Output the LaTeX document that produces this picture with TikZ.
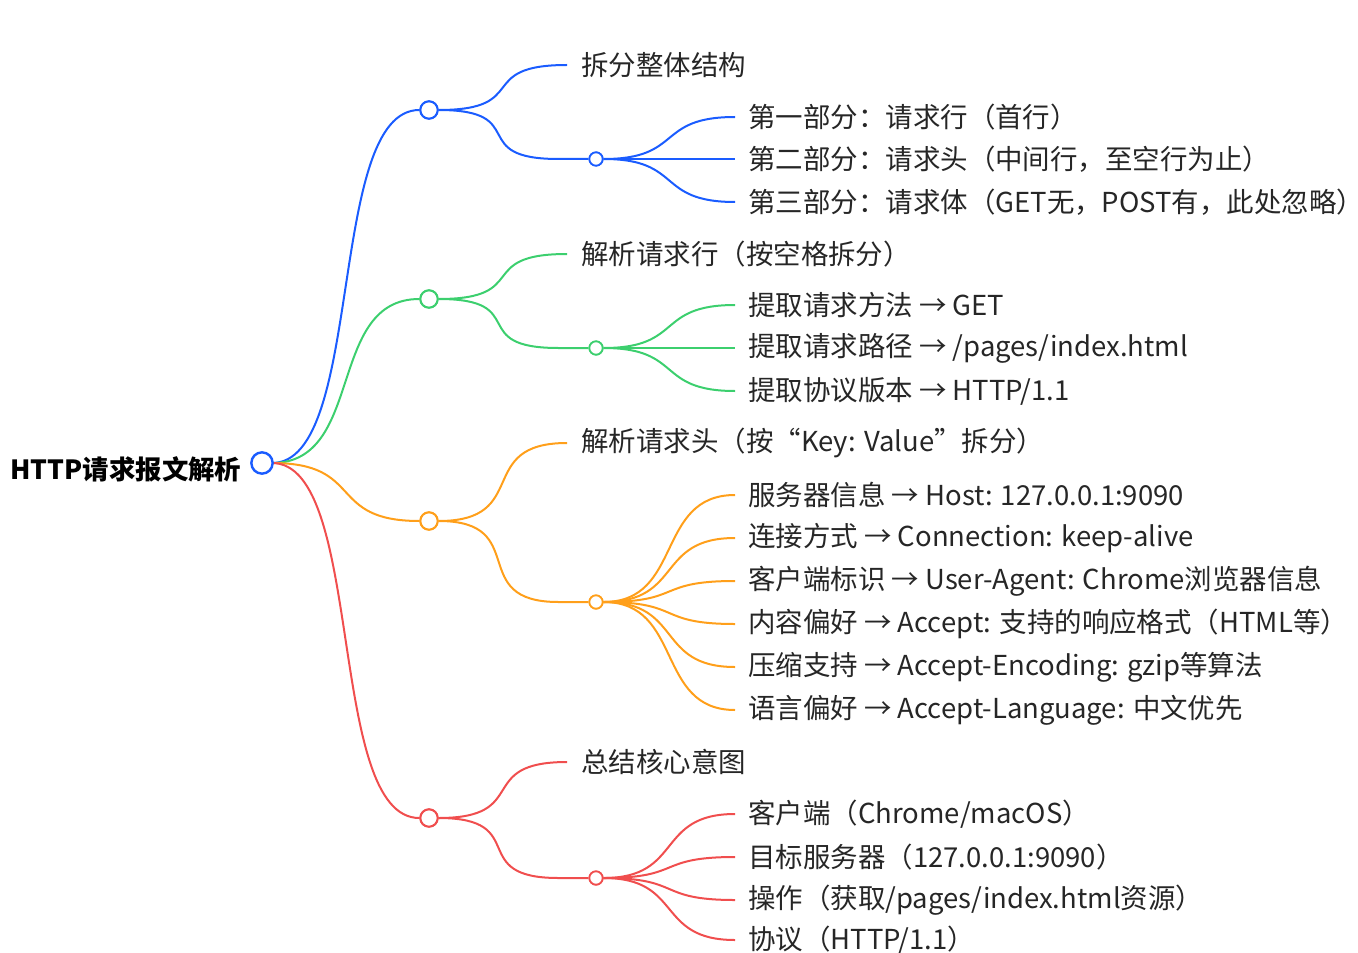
\documentclass[tikz,border=0pt]{standalone}
\usepackage{fontspec}
\setmainfont{Noto Sans CJK SC}
\begin{document}
\begin{tikzpicture}[x=0.75pt,y=-0.75pt,
  c1/.style={circle,draw,line width=1.5pt,fill=white,minimum size=13pt,inner sep=0pt},
  c2/.style={circle,draw,line width=1.3pt,fill=white,minimum size=10pt,inner sep=0pt},
  croot/.style={circle,draw=blueC,line width=1.8pt,fill=white,minimum size=16pt,inner sep=0pt},
  lab/.style={anchor=west,inner xsep=10.5pt,inner ysep=0pt,font=\fontsize{20.6}{24}\selectfont,text=black!85},
  br/.style={line width=1.5pt,out=0,in=180,distance=#1},
  br/.default=50]
\definecolor{blueC}{HTML}{1A5CFF}
\definecolor{greenC}{HTML}{3CCF6E}
\definecolor{orangeC}{HTML}{FF9F1A}
\definecolor{redC}{HTML}{F04E4E}
\useasboundingbox (0,0) rectangle (1358,952);
\node[anchor=east,font=\bfseries\fontsize{19.8}{22}\selectfont] (roottxt) at (246,469) {HTTP请求报文解析};
\coordinate (rootw) at (272,463);
\node[c1,draw=blueC] (b) at (429,110) {};
\node[c1,draw=greenC] (g) at (429,299) {};
\node[c1,draw=orangeC] (o) at (429,521) {};
\node[c1,draw=redC] (r) at (429,818) {};
\draw[br=70,blueC] (rootw) to (b.west);
\draw[br=70,greenC] (rootw) to (g.west);
\draw[br=70,orangeC] (rootw) to (o.west);
\draw[br=70,redC] (rootw) to (r.west);
\node[croot] (root) at (262,463) {};
\node[c2,draw=blueC] (bs) at (596,159) {};
\node[c2,draw=greenC] (gs) at (596,348) {};
\node[c2,draw=orangeC] (os) at (596,602) {};
\node[c2,draw=redC] (rs) at (596,878) {};
\node[lab] (bl) at (567,65) {拆分整体结构};
\node[lab] (gl) at (567,254) {解析请求行（按空格拆分）};
\node[lab] (ol) at (567,443) {解析请求头（按“Key: Value”拆分）};
\node[lab] (rl) at (567,762) {总结核心意图};
\foreach \p/\col in {b/blueC,g/greenC,o/orangeC,r/redC}{
  \draw[br=70,\col] (\p.east) to (\p l.west);
  \draw[br=70,\col] (\p.east) to ([xshift=-22.5pt]\p s.west) -- (\p s.west);
}
\begin{scope}[lab/.append style={inner xsep=0pt}]
\node[lab] (b1) at (748,117) {第一部分：请求行（首行）};
\node[lab] (b2) at (748,159) {第二部分：请求头（中间行，至空行为止）};
\node[lab] (b3) at (748,202) {第三部分：请求体（GET无，POST有，此处忽略）};
\node[lab] (g1) at (748,305) {提取请求方法 → GET};
\node[lab] (g2) at (748,348) {提取请求路径 → /pages/index.html};
\node[lab] (g3) at (748,391) {提取协议版本 → HTTP/1.1};
\node[lab] (o1) at (748,495) {服务器信息 → Host: 127.0.0.1:9090};
\node[lab] (o2) at (748,538) {连接方式 → Connection: keep-alive};
\node[lab] (o3) at (748,581) {客户端标识 → User-Agent: Chrome浏览器信息};
\node[lab] (o4) at (748,624) {内容偏好 → Accept: 支持的响应格式（HTML等）};
\node[lab] (o5) at (748,667) {压缩支持 → Accept-Encoding: gzip等算法};
\node[lab] (o6) at (748,710) {语言偏好 → Accept-Language: 中文优先};
\node[lab] (r1) at (748,814) {客户端（Chrome/macOS）};
\node[lab] (r2) at (748,857) {目标服务器（127.0.0.1:9090）};
\node[lab] (r3) at (748,900) {操作（获取/pages/index.html资源）};
\node[lab] (r4) at (748,940) {协议（HTTP/1.1）};
\end{scope}
\foreach \s/\col/\list in {bs/blueC/{b1,b2,b3},gs/greenC/{g1,g2,g3},os/orangeC/{o1,o2,o3,o4,o5,o6},rs/redC/{r1,r2,r3,r4}}{
  \foreach \t in \list { \draw[br=60,\col] (\s.east) to ([xshift=-9.75pt]\t.west); }
}
\foreach \s/\col in {bs/blueC,gs/greenC,os/orangeC,rs/redC}{\node[c2,draw=\col] at (\s) {};}
\foreach \s/\col in {b/blueC,g/greenC,o/orangeC,r/redC}{\node[c1,draw=\col] at (\s) {};}
\end{tikzpicture}
\end{document}
